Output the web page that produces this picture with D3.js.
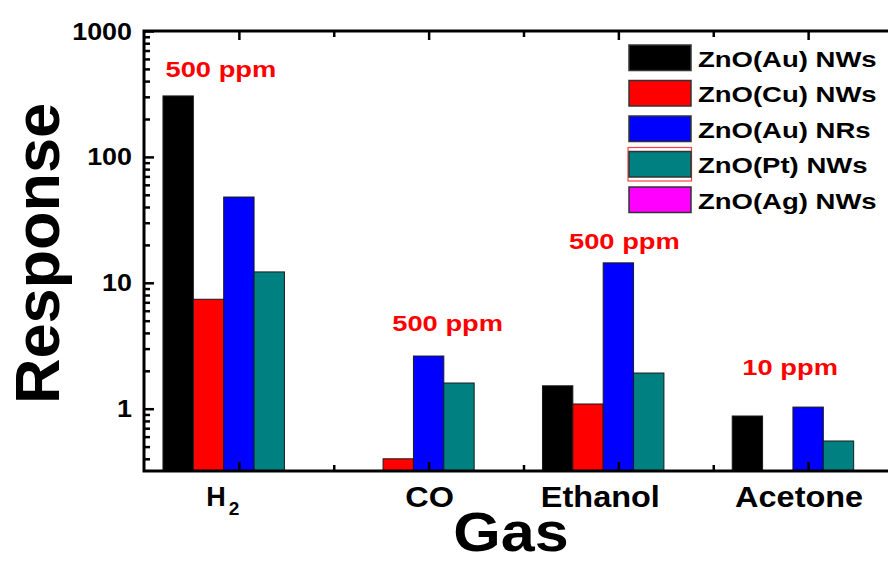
<!DOCTYPE html>
<html>
<head>
<meta charset="utf-8">
<script src="https://cdn.jsdelivr.net/npm/d3@7"></script>
<style>
  html, body { margin: 0; padding: 0; background: #fff; overflow: hidden; }
  svg { display: block; }
  text { font-family: "Liberation Sans", Arial, sans-serif; font-weight: bold; }
</style>
</head>
<body>
<svg id="chart" width="888" height="563"></svg>
<script>
// Gas categories on the x axis
const categories = ["H2", "CO", "Ethanol", "Acetone"];

// Sensor materials (series) and their fill colours
const seriesNames = ["ZnO(Au) NWs", "ZnO(Cu) NWs", "ZnO(Au) NRs", "ZnO(Pt) NWs", "ZnO(Ag) NWs"];
const seriesColors = ["#000000", "#ff0000", "#0000ff", "#008080", "#ff00ff"];

// Response of each material per gas (null = not measured)
const auNWs = [305, null, 1.52, 0.875];
const cuNWs = [7.4, 0.40, 1.09, null];
const auNRs = [48, 2.62, 14.4, 1.03];
const ptNWs = [12.2, 1.6, 1.92, 0.554];
const agNWs = [null, null, null, null];

// Log axis major ticks and their labels
const yTickValues = [1, 10, 100, 1000];
const yTickLabels = ["1", "10", "100", "1000"];

// Gas concentration notes per category
const concLabels = ["500 ppm", "500 ppm", "500 ppm", "10 ppm"];

const seriesValues = [auNWs, cuNWs, auNRs, ptNWs, agNWs];

const svg = d3.select("#chart");
const plotL = 144, plotR = 903, plotT = 31, plotB = 471;

// x: categories at integer positions 1..4, frame from 0.5 to 4.5
const x = d3.scaleLinear().domain([0.5, 4.5]).range([plotL, plotR]);
const unit = x(2) - x(1);
const groupWidth = 0.8;
const sub = d3.scaleBand().domain(d3.range(seriesNames.length))
  .range([-groupWidth / 2, groupWidth / 2]);

const y = d3.scaleLog().domain([0.32, 1000]).range([plotB, plotT]);

// helper: horizontally widened bold text
function wideText(g, str, tx, ty, size, sx, anchor, fill) {
  return g.append("text")
    .attr("transform", `translate(${tx},${ty}) scale(${sx},1)`)
    .attr("text-anchor", anchor || "middle")
    .attr("font-size", size)
    .attr("fill", fill || "#000")
    .text(str);
}

// Bars
const barData = [];
categories.forEach((c, ci) => {
  seriesValues.forEach((vals, si) => {
    if (vals[ci] != null) barData.push({ ci, si, v: vals[ci] });
  });
});
svg.append("g").selectAll("rect").data(barData).enter().append("rect")
  .attr("x", d => x(d.ci + 1 + sub(d.si)))
  .attr("width", sub.bandwidth() * unit)
  .attr("y", d => y(d.v))
  .attr("height", d => plotB - y(d.v))
  .attr("fill", d => seriesColors[d.si])
  .attr("stroke", "#1a1a1a")
  .attr("stroke-width", 1);

// Axes (ticks pointing inward)
const majorX = d3.range(1, categories.length + 1);
const minorX = d3.range(1.5, 4.5, 1);
const minorY = [];
[0.1, 1, 10, 100].forEach(dec => {
  for (let k = 2; k <= 9; k++) {
    const v = dec * k;
    if (v >= 0.32 && v < 1000) minorY.push(v);
  }
});

function styleAxis(g) {
  g.select(".domain").remove();
  g.selectAll("line").attr("stroke", "#000").attr("stroke-width", 2.5);
  g.selectAll("text").remove();
}

svg.append("g").attr("transform", `translate(0,${plotB})`)
  .call(d3.axisTop(x).tickValues(majorX).tickSize(9).tickFormat("")).call(styleAxis);
svg.append("g").attr("transform", `translate(0,${plotB})`)
  .call(d3.axisTop(x).tickValues(minorX).tickSize(6).tickFormat("")).call(styleAxis);
svg.append("g").attr("transform", `translate(0,${plotT})`)
  .call(d3.axisBottom(x).tickValues(majorX).tickSize(9).tickFormat("")).call(styleAxis);
svg.append("g").attr("transform", `translate(0,${plotT})`)
  .call(d3.axisBottom(x).tickValues(minorX).tickSize(6).tickFormat("")).call(styleAxis);
svg.append("g").attr("transform", `translate(${plotL},0)`)
  .call(d3.axisRight(y).tickValues(yTickValues).tickSize(10).tickFormat("")).call(styleAxis);
svg.append("g").attr("transform", `translate(${plotL},0)`)
  .call(d3.axisRight(y).tickValues(minorY).tickSize(6).tickFormat("")).call(styleAxis);
svg.append("g").attr("transform", `translate(${plotR},0)`)
  .call(d3.axisLeft(y).tickValues(yTickValues).tickSize(10).tickFormat("")).call(styleAxis);

// Frame
svg.append("rect")
  .attr("x", plotL).attr("y", plotT)
  .attr("width", plotR - plotL).attr("height", plotB - plotT)
  .attr("fill", "none").attr("stroke", "#000").attr("stroke-width", 3);

// Y tick labels
const yl = svg.append("g");
yTickValues.forEach((v, i) => {
  wideText(yl, yTickLabels[i], plotL - 12, y(v) + 8.5, 24, 1.12, "end");
});

// X category labels (H2 drawn with subscript)
const labelShift = [-16, 1, -18, -9];
const xl = svg.append("g");
categories.forEach((c, i) => {
  const cx = x(i + 1) + labelShift[i];
  if (c === "H2") {
    const t = wideText(xl, "", cx, 506, 27, 1.0, "middle");
    t.append("tspan").text("H");
    t.append("tspan").attr("font-size", 19).attr("dy", 9).attr("dx", 3).text("2");
  } else {
    wideText(xl, c, cx, 507, 29, 1.12, "middle");
  }
});

// Concentration notes
const notePlace = [[-18, 77], [19, 331], [6, 249], [-18, 375]];
const nl = svg.append("g");
concLabels.forEach((s, i) => {
  wideText(nl, s, x(i + 1) + notePlace[i][0], notePlace[i][1], 21.5, 1.27, "middle", "#ff0000");
});

// Axis titles
svg.append("text")
  .attr("transform", "translate(59,253.5) rotate(-90)")
  .attr("text-anchor", "middle")
  .attr("font-size", 63)
  .text("Response");
wideText(svg, "Gas", 511, 551, 56, 1.09, "middle");

// Legend
const lg = svg.append("g");
seriesNames.forEach((name, i) => {
  const ly = 45 + i * 35.5;
  if (i === 3) {
    lg.append("rect").attr("x", 628).attr("y", ly - 4).attr("width", 63.5).attr("height", 33.5)
      .attr("fill", "none").attr("stroke", "#ff4040").attr("stroke-width", 1.2);
  }
  lg.append("rect").attr("x", 629).attr("y", ly).attr("width", 62).attr("height", 25.5)
    .attr("fill", seriesColors[i]).attr("stroke", "#333").attr("stroke-width", 1.5);
  wideText(lg, name, 698, ly + 21.5, 22, 1.25, "start");
});
</script>
</body>
</html>
